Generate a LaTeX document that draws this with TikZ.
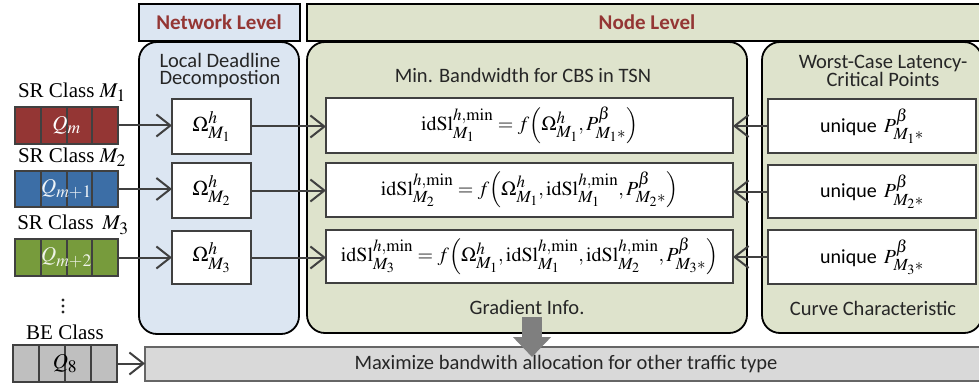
\documentclass[tikz,border=0pt]{standalone}
\usepackage{mathptmx}
\usepackage{fontspec}
\setmainfont{Liberation Serif}
\newfontfamily\calibfont{Carlito}
\usetikzlibrary{arrows.meta,calc}
% large script levels, as in the formulas of the figure
\DeclareMathSizes{20}{20}{17}{14}
\DeclareMathSizes{21}{21}{17.5}{14}

\definecolor{netbg}{HTML}{DCE6F2}
\definecolor{nodebg}{HTML}{DEE3CC}
\definecolor{hdrtext}{HTML}{943634}
\definecolor{qred}{HTML}{943634}
\definecolor{qblue}{HTML}{3C6EA6}
\definecolor{qgreen}{HTML}{779B3C}
\definecolor{qgray}{HTML}{BFBFBF}
\definecolor{barbg}{HTML}{D9D9D9}
\definecolor{edgegray}{HTML}{404040}
\definecolor{bigarrow}{HTML}{7F7F7F}

\tikzset{
  every node/.style={inner sep=0pt, outer sep=0pt},
  hdrbox/.style={draw=black, line width=1.8pt, rectangle},
  panelbox/.style={draw=black, line width=1.8pt, rounded corners=18pt, rectangle},
  whitebox/.style={draw=edgegray, line width=2.2pt, fill=white, rectangle},
  queuebox/.style={draw=edgegray, line width=2pt, rectangle, minimum height=37pt},
  calibtext/.style={font=\calibfont\fontsize{20.5}{17}\selectfont, text=black!85, align=center},
  hdrtitle/.style={font=\calibfont\bfseries\fontsize{21}{22}\selectfont, text=hdrtext},
  serif/.style={font=\fontsize{21}{22}\selectfont},
  eqtext/.style={font=\fontsize{20}{21}\selectfont},
  conn/.style={draw=edgegray, line width=2pt, -{Straight Barb[length=14pt,width=22pt]}},
}

\begin{document}
\begin{tikzpicture}[x=1pt, y=-1pt]
\useasboundingbox (0,0) rectangle (979,385);

% ---- panels ----
\node[panelbox, fill=netbg, minimum width=160pt, minimum height=292pt] (netpanel) at (219,188) {};
\node[hdrbox, fill=netbg, minimum width=161pt, minimum height=37pt] (nethdr) at (219.5,22.5) {};
\node[hdrtitle] at (219,22) {Network Level};

\node[panelbox, fill=nodebg, minimum width=440pt, minimum height=291pt] (nodepanel) at (527,187.5) {};
\node[panelbox, fill=nodebg, minimum width=220pt, minimum height=291pt] (wcpanel) at (872,187.5) {};
\node[hdrbox, fill=nodebg, minimum width=679pt, minimum height=37pt] (nodehdr) at (646.5,22.5) {};
\node[hdrtitle] at (647,22) {Node Level};

% ---- panel captions ----
\node[calibtext] (ldd) at (220,71) {Local Deadline\\Decompostion};
\node[calibtext] (minbw) at (523,75) {Min. Bandwidth for CBS in TSN};
\node[calibtext] (grad) at (527,307) {Gradient Info.};
\node[calibtext] (wcl) at (883,71) {Worst-Case Latency-\\Critical Points};
\node[calibtext] (curve) at (873,308) {Curve Characteristic};

% ---- bottom bar ----
\node[draw=edgegray!80, line width=2pt, fill=barbg, minimum width=845pt, minimum height=34pt] (bar) at (567.5,364) {};
\node[calibtext] at (566,364) {Maximize bandwith allocation for other traffic type};

% ---- deadline boxes ----
\node[whitebox, minimum width=79pt, minimum height=55pt, serif] (o1) at (211.5,126.5) {$\Omega^{h}_{M_1}$};
\node[whitebox, minimum width=79pt, minimum height=55pt, serif] (o2) at (211.5,190.5) {$\Omega^{h}_{M_2}$};
\node[whitebox, minimum width=79pt, minimum height=53pt, serif] (o3) at (211.5,257.5) {$\Omega^{h}_{M_3}$};

% ---- idle slope boxes ----
\node[whitebox, minimum width=407pt, minimum height=55pt, eqtext] (e1) at (529.5,125.5)
  {$\mathrm{idSl}^{h,\min}_{M_1} = f\Bigl(\Omega^{h}_{M_1}, P^{\beta}_{M_1{*}}\Bigr)$};
\node[whitebox, minimum width=407pt, minimum height=54pt, eqtext] (e2) at (529.5,190)
  {$\mathrm{idSl}^{h,\min}_{M_2} = f\Bigl(\Omega^{h}_{M_1}, \mathrm{idSl}^{h,\min}_{M_1}, P^{\beta}_{M_2{*}}\Bigr)$};
\node[whitebox, minimum width=407pt, minimum height=53pt, eqtext] (e3) at (529.5,256.5)
  {$\mathrm{idSl}^{h,\min}_{M_3} = f\Bigl(\Omega^{h}_{M_1}, \mathrm{idSl}^{h,\min}_{M_1}, \mathrm{idSl}^{h,\min}_{M_2}, P^{\beta}_{M_3{*}}\Bigr)$};

% ---- critical point boxes ----
\node[whitebox, minimum width=208pt, minimum height=54pt] (r1) at (872,126)
  {\calibfont\fontsize{20}{22}\selectfont unique\hspace{0.35em}{\fontsize{20}{22}\selectfont$P^{\beta}_{M_1{*}}$}};
\node[whitebox, minimum width=208pt, minimum height=53pt] (r2) at (872,191.5)
  {\calibfont\fontsize{20}{22}\selectfont unique\hspace{0.35em}{\fontsize{20}{22}\selectfont$P^{\beta}_{M_2{*}}$}};
\node[whitebox, minimum width=208pt, minimum height=54pt] (r3) at (872,257)
  {\calibfont\fontsize{20}{22}\selectfont unique\hspace{0.35em}{\fontsize{20}{22}\selectfont$P^{\beta}_{M_3{*}}$}};

% ---- traffic class queues ----
\node[serif] at (72,92) {SR Class $M_1$};
\node[serif] at (72,157) {SR Class $M_2$};
\node[serif] at (73,225) {SR Class\, $M_3$};
\foreach \dy in {300,306,312}{
  \fill[black!85] (63,\dy) circle (1.7pt);
}
\node[serif] at (65,332) {BE Class};

\node[queuebox, fill=qred, minimum width=103pt] (q1) at (66.5,125.5) {};
\node[queuebox, fill=qblue, minimum width=103pt, minimum height=36pt] (q2) at (66.5,189) {};
\node[queuebox, fill=qgreen, minimum width=103pt] (q3) at (66.5,257.5) {};
\node[queuebox, fill=qgray, minimum width=104pt] (q8) at (65,363.5) {};
\foreach \q in {q1,q2,q3,q8}{
  \foreach \i in {1,2,3}{
    \draw[edgegray, line width=2pt]
      ($(\q.north west)!\i/4!(\q.north east)$) -- ($(\q.south west)!\i/4!(\q.south east)$);
  }
}
\node[serif, text=white] at (q1.center) {$Q_m$};
\node[serif, text=white!92!qblue] at (q2.center) {$Q_{m+1}$};
\node[serif, text=white!88!qgreen] at (q3.center) {$Q_{m+2}$};
\node[serif] at (q8.center) {$Q_8$};

% ---- connectors ----
\foreach \r in {1,2,3}{
  \draw[conn] (q\r.east) -- (q\r.east -| o\r.west);
  \draw[conn] (o\r.east) -- (o\r.east -| e\r.west);
  \draw[conn] (r\r.west) -- (r\r.west -| e\r.east);
}
\draw[conn] (q8.east) -- (q8.east -| bar.west);

% ---- gradient arrow into the bar ----
\coordinate (gtop) at (532,317);
\coordinate (gtip) at (532,357);
\draw[bigarrow, line width=20pt, -{Triangle[length=20pt,width=37pt]}] (gtop) -- (gtip);
\end{tikzpicture}
\end{document}
